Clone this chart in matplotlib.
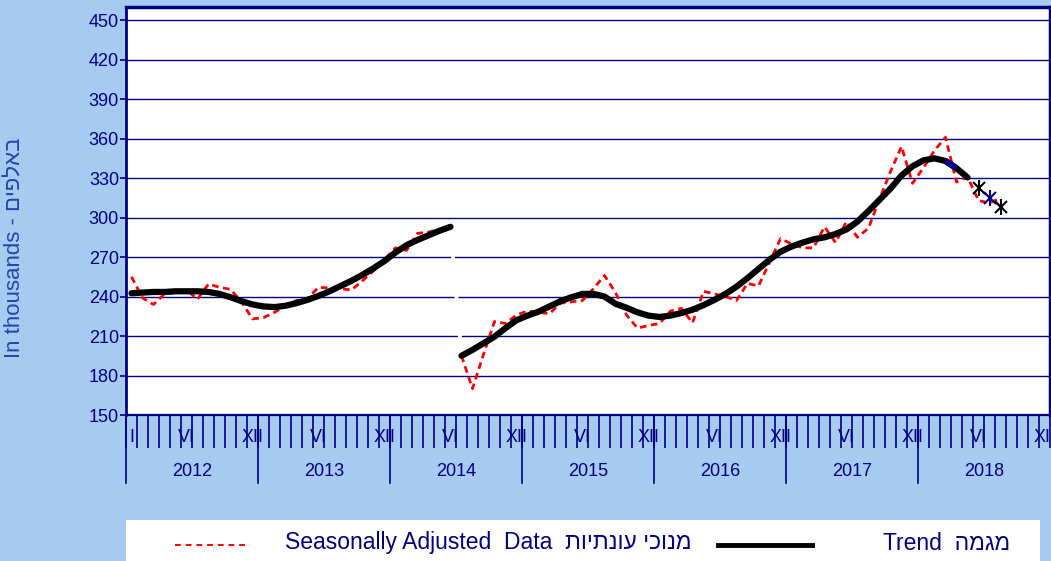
import matplotlib
matplotlib.use('Agg')
import matplotlib.pyplot as plt
import numpy as np
from matplotlib.transforms import blended_transform_factory

plt.rcParams['font.family'] = ['Liberation Sans', 'DejaVu Sans']

# ---------------- data ----------------
years = [2012, 2013, 2014, 2015, 2016, 2017, 2018]
month_roman = ['I', 'II', 'III', 'IV', 'V', 'VI', 'VII', 'VIII', 'IX', 'X', 'XI', 'XII']

# Seasonally adjusted data (thousands), Jan 2012 .. Aug 2018
seasonally_adjusted = [
    255, 239, 234, 242, 243, 245, 238, 249.5, 247, 245.5, 236, 223,          # 2012
    224, 228, 233, 237, 238.5, 247, 246.5, 246, 245, 252, 259.5, 268,        # 2013
    277, 275, 288, 289, 291, 294, 195, 170, 196, 221, 219.5, 226,            # 2014
    229, 228, 227, 235, 236, 237, 246, 256, 243, 226, 216, 218,              # 2015
    219.5, 229, 231, 220, 244, 242, 240, 237, 250, 248, 266, 284,            # 2016
    280, 277, 277, 293, 281, 297, 285, 292, 314, 335, 354, 326,              # 2017
    338, 351, 361, 327, 331, 313, 311, 315,                                  # 2018
]

# Trend (thousands), Jan 2012 .. May 2018
trend = [
    242.5, 243, 243.5, 243.5, 244, 244, 244, 243.5, 242, 239.5, 236.5, 234,  # 2012
    232.5, 232, 233, 235, 237.5, 240.5, 244, 248, 252, 256.5, 261.5, 267,    # 2013
    273.5, 279, 283, 286.5, 290, 293, 195, 199.5, 204.5, 209.5, 216, 222,    # 2014
    225.5, 228.5, 232.5, 236.5, 239.5, 242, 242, 240, 234.5, 231.5, 228, 225.5,  # 2015
    224.5, 225.5, 227.5, 230, 233.5, 237.5, 242, 247.5, 254, 261, 268, 274,  # 2016
    278, 281, 283.5, 285, 287.5, 291, 297, 305, 313.5, 322, 332, 339,        # 2017
    343.5, 345, 343, 337.5, 330.5,                                           # 2018
]
series_break = 30          # Jul 2014: break in series
trend_highlight = (74, 75)  # segment shown in navy

# provisional trend estimates (Jun-Aug 2018)
provisional_idx = [77, 78, 79]
provisional_val = [322.5, 315, 308]
provisional_col = ['black', '#000080', 'black']

y_ticks = list(range(150, 451, 30))

NAVY = '#000080'
BG = '#A6CAF0'

# ---------------- figure ----------------
W, H = 1051, 561
fig = plt.figure(figsize=(W / 100, H / 100), dpi=100, facecolor=BG)
ax = fig.add_axes([126 / W, 1 - 415 / H, (1050 - 126) / W, 408 / H])
ax.set_facecolor('white')

n_months = len(years) * 12
ax.set_xlim(-0.5, n_months - 0.5)
ax.set_ylim(150, 460)

ax.set_yticks(y_ticks)
ax.set_yticklabels([str(v) for v in y_ticks])
ax.yaxis.grid(True, color=NAVY, lw=1.0)
ax.set_axisbelow(True)
ax.tick_params(axis='y', length=4, width=1.2, color=NAVY, labelcolor=NAVY,
               labelsize=13, pad=1)

for side, lw in (('left', 2.0), ('top', 2.5), ('right', 2.5), ('bottom', 1.6)):
    ax.spines[side].set_color(NAVY)
    ax.spines[side].set_linewidth(lw)

ax.set_xticks([])
ax.set_xticks(np.arange(-0.5, n_months, 1), minor=True)
ax.tick_params(axis='x', which='minor', length=24, width=1.2, color=NAVY,
               direction='out')

trans = blended_transform_factory(ax.transData, ax.transAxes)
# year separators
for k in range(len(years)):
    b = k * 12 - 0.5
    ax.plot([b, b], [0, -68 / 408], transform=trans, clip_on=False,
            color=NAVY, lw=1.2)
# month labels
for i in range(n_months):
    m = i % 12
    if i == 0 or m in (5, 11):
        ax.text(i, -22 / 408, month_roman[m], transform=trans, ha='center',
                va='center', fontsize=13, color=NAVY, clip_on=False)
# year labels
for k, yv in enumerate(years):
    ax.text(k * 12 + 5.5, -56.5 / 408, str(yv), transform=trans, ha='center',
            va='center', fontsize=13, color=NAVY)

# ---------------- series ----------------
x_sa = np.arange(len(seasonally_adjusted))
sa = np.array(seasonally_adjusted, dtype=float)
x_tr = np.arange(len(trend))
tr = np.array(trend, dtype=float)

dash = dict(color='red', lw=2.0, dashes=(2.4, 1.6), zorder=3)
ax.plot(x_sa[:series_break], sa[:series_break], **dash)
ax.plot(x_sa[series_break:], sa[series_break:], **dash)

# white connector over the break
ax.plot(x_tr[series_break - 1:series_break + 1], tr[series_break - 1:series_break + 1],
        color='white', lw=2.8, zorder=2.5)

tr_style = dict(color='black', lw=4.5, solid_capstyle='round', zorder=4)
ax.plot(x_tr[:series_break], tr[:series_break], **tr_style)
ax.plot(x_tr[series_break:], tr[series_break:], **tr_style)
a, b = trend_highlight
ax.plot(x_tr[a:b + 1], tr[a:b + 1], color=NAVY, lw=4.5, zorder=4.5,
        solid_capstyle='butt')

ax.plot(provisional_idx, provisional_val, color=NAVY, lw=1.0, zorder=4)
for xi, yi, c in zip(provisional_idx, provisional_val, provisional_col):
    ax.plot([xi], [yi], ls='none', marker='x', ms=9, mew=1.5, color=c, zorder=5)
    ax.plot([xi], [yi], ls='none', marker='|', ms=12, mew=1.5, color=c, zorder=5)

# ---------------- y label ----------------
fig.text(15 / W, 1 - 248 / H, 'In thousands - ' + 'באלפים'[::-1], rotation=90,
         ha='center', va='center', fontsize=16, color='#2347A8')

# ---------------- legend ----------------
lax = fig.add_axes([126 / W, 0, (1040 - 126) / W, 41 / H])
lax.set_facecolor('white')
lax.set_xlim(126, 1040)
lax.set_ylim(561, 520)
lax.set_xticks([])
lax.set_yticks([])
for s in lax.spines.values():
    s.set_visible(False)
lax.plot([175, 250], [545, 545], color='red', lw=1.4, dashes=(3, 2.5))
lax.text(285, 543, 'Seasonally Adjusted  Data  ' + 'מנוכי עונתיות'[::-1],
         ha='left', va='center', fontsize=16.5, color=NAVY)
lax.plot([718, 812], [545, 545], color='black', lw=3.5)
lax.text(1010, 543, 'Trend  ' + 'מגמה'[::-1], ha='right', va='center',
         fontsize=16.5, color=NAVY)

fig.savefig('out.png', dpi=100, facecolor=BG)
